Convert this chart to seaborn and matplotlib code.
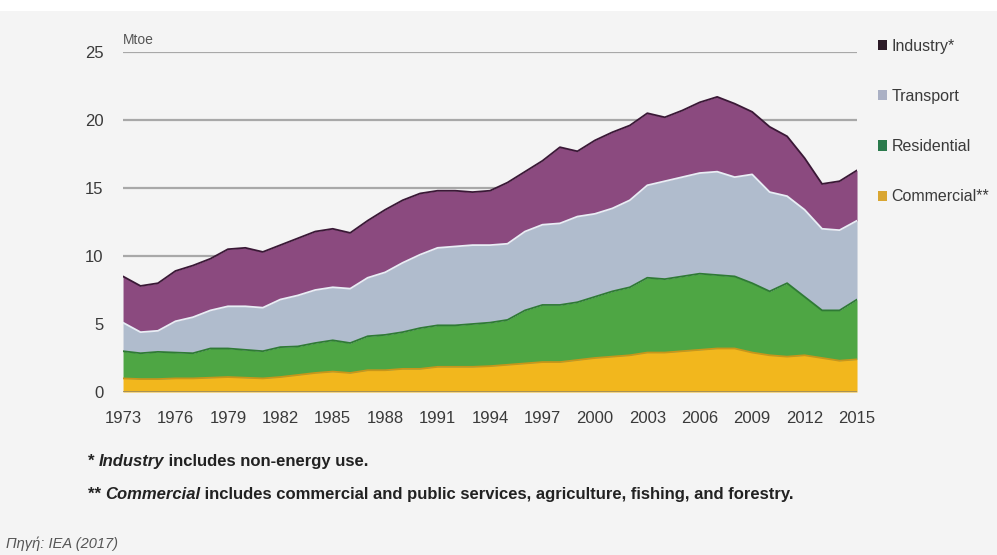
import numpy as np
import pandas as pd
import matplotlib.pyplot as plt
import seaborn as sns
from matplotlib.patches import Patch, Rectangle

years = list(range(1973, 2016))

commercial = [1.0, 0.95, 0.95, 1.0, 1.0, 1.05, 1.1, 1.05, 1.0, 1.1,
              1.25, 1.4, 1.5, 1.4, 1.6, 1.6, 1.7, 1.7, 1.85, 1.85,
              1.85, 1.9, 2.0, 2.1, 2.2, 2.2, 2.35, 2.5, 2.6, 2.7,
              2.9, 2.9, 3.0, 3.1, 3.2, 3.2, 2.9, 2.7, 2.6, 2.7,
              2.5, 2.3, 2.4]
residential = [2.0, 1.9, 2.0, 1.9, 1.85, 2.15, 2.1, 2.05, 2.0, 2.2,
               2.1, 2.2, 2.3, 2.2, 2.5, 2.6, 2.7, 3.0, 3.05, 3.05,
               3.15, 3.2, 3.3, 3.9, 4.2, 4.2, 4.25, 4.5, 4.8, 5.0,
               5.5, 5.4, 5.5, 5.6, 5.4, 5.3, 5.1, 4.7, 5.4, 4.3,
               3.5, 3.7, 4.4]
transport = [2.1, 1.55, 1.55, 2.3, 2.65, 2.8, 3.1, 3.2, 3.2, 3.5,
             3.75, 3.9, 3.9, 4.0, 4.3, 4.6, 5.1, 5.4, 5.7, 5.8,
             5.8, 5.7, 5.6, 5.8, 5.9, 6.0, 6.3, 6.1, 6.1, 6.4,
             6.8, 7.2, 7.3, 7.4, 7.6, 7.3, 8.0, 7.3, 6.4, 6.4,
             6.0, 5.9, 5.8]
industry = [3.4, 3.4, 3.5, 3.7, 3.8, 3.8, 4.2, 4.3, 4.1, 4.0,
            4.2, 4.3, 4.3, 4.1, 4.2, 4.6, 4.6, 4.5, 4.2, 4.1,
            3.9, 4.0, 4.5, 4.4, 4.7, 5.6, 4.8, 5.4, 5.6, 5.5,
            5.3, 4.7, 4.9, 5.2, 5.5, 5.4, 4.6, 4.8, 4.4, 3.8,
            3.3, 3.6, 3.7]

series = ['Commercial**', 'Residential', 'Transport', 'Industry*']
fills = ['#f2b71d', '#4ea644', '#b0bccd', '#8b4a7f']
edges = ['#c8961a', '#2f7a35', '#e8eef5', '#3a1836']
legend_colors = ['#2b1a26', '#aab0c4', '#2a7a4c', '#d9a632']
yticks = [0, 5, 10, 15, 20, 25]
xticks = list(range(1973, 2016, 3))

df = pd.DataFrame({'year': years, 'Commercial**': commercial,
                   'Residential': residential, 'Transport': transport,
                   'Industry*': industry})
tops = df[series].cumsum(axis=1)

sns.set_theme(style='white')
plt.rcParams['font.family'] = ['Liberation Sans', 'DejaVu Sans']

fig = plt.figure(figsize=(9.97, 5.55), dpi=100, facecolor='#f4f4f4')
fig.patches.append(Rectangle((0, 0.98), 1, 0.02, transform=fig.transFigure,
                             facecolor='white', edgecolor='none', zorder=-1))
ax = fig.add_axes([0.1234, 0.2937, 0.7362, 0.6126])
ax.set_facecolor('#f4f4f4')

for y in [10, 15, 20, 25]:
    ax.axhline(y, color='#a8a8a8', lw=1.6, zorder=0)

ax.stackplot(df['year'], [df[s] for s in series], colors=fills, lw=0, zorder=2)
for s, ec in zip(series, edges):
    sns.lineplot(x=df['year'], y=tops[s], color=ec, lw=1.3, ax=ax, zorder=3)
ax.axhline(0, color='#9a8a60', lw=1.2, zorder=3)

ax.set_xlim(1973, 2015)
ax.set_ylim(0, 25)
ax.set_xticks(xticks)
ax.set_yticks(yticks)
ax.tick_params(axis='both', length=0, labelsize=12, labelcolor='#3a3a3a')
ax.tick_params(axis='x', pad=14)
ax.tick_params(axis='y', pad=14)
ax.set_xlabel('')
ax.set_ylabel('')
sns.despine(ax=ax, left=True, bottom=True, top=True, right=True)

ax.text(0.0, 1.015, 'Mtoe', transform=ax.transAxes, fontsize=10,
        color='#555555', ha='left', va='bottom')

handles = [Patch(facecolor=c, edgecolor='none') for c in legend_colors]
leg = fig.legend(handles, series[::-1], loc='upper left',
                 bbox_to_anchor=(0.866, 0.956), frameon=False,
                 fontsize=11.5, labelspacing=2.2, handlelength=0.6,
                 handleheight=0.6, handletextpad=0.25)
for t in leg.get_texts():
    t.set_color('#3a3a3a')

# footnotes: pieces placed one after another
fs = 12
kw = dict(fontsize=fs, fontweight='bold', color='#222222', va='bottom')
t1 = fig.text(0.088, 0.155, '* ', **kw)
t2 = ax.annotate('Industry', xy=(1, 0), xycoords=t1, xytext=(0, 0),
                 textcoords='offset points', style='italic',
                 annotation_clip=False, **kw)
ax.annotate(' includes non-energy use.', xy=(1, 0), xycoords=t2,
            xytext=(0, 0), textcoords='offset points',
            annotation_clip=False, **kw)
t3 = fig.text(0.088, 0.095, '** ', **kw)
t4 = ax.annotate('Commercial', xy=(1, 0), xycoords=t3, xytext=(0, 0),
                 textcoords='offset points', style='italic',
                 annotation_clip=False, **kw)
ax.annotate(' includes commercial and public services, agriculture, fishing, and forestry.',
            xy=(1, 0), xycoords=t4, xytext=(0, 0), textcoords='offset points',
            annotation_clip=False, **kw)

fig.text(0.006, 0.012, 'Πηγή: IEA (2017)', fontsize=10.5, style='italic', color='#555555')

fig.savefig('out.png', dpi=100, facecolor=fig.get_facecolor())
